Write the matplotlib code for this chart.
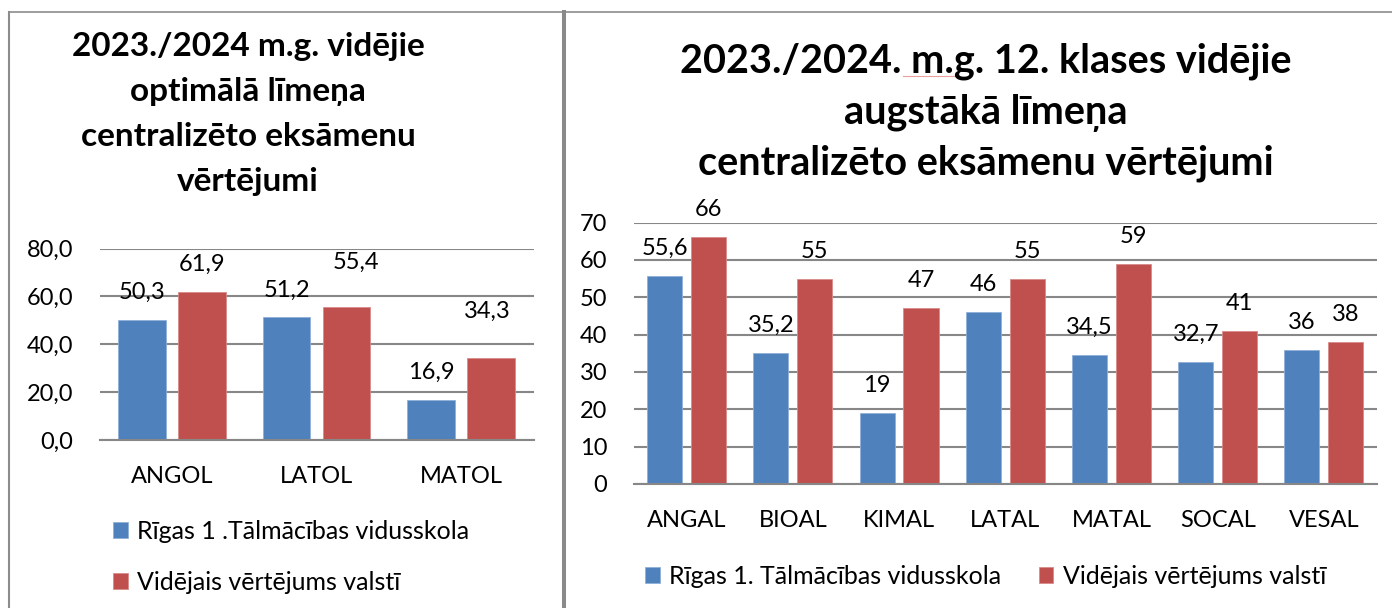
import matplotlib
matplotlib.use("Agg")
import matplotlib.pyplot as plt
from matplotlib.lines import Line2D
import numpy as np

# ---------------- data ----------------
left_categories = ["ANGOL", "LATOL", "MATOL"]
left_school = [50.3, 51.2, 16.9]
left_country = [61.9, 55.4, 34.3]
left_title = "2023./2024 m.g. vidējie\noptimālā līmeņa\ncentralizēto eksāmenu\nvērtējumi"
left_yticks = [0, 20, 40, 60, 80]

right_categories = ["ANGAL", "BIOAL", "KIMAL", "LATAL", "MATAL", "SOCAL", "VESAL"]
right_school = [55.6, 35.2, 19, 46, 34.5, 32.7, 36]
right_country = [66, 55, 47, 55, 59, 41, 38]
right_title = "2023./2024. m.g. 12. klases vidējie\naugstākā līmeņa\ncentralizēto eksāmenu vērtējumi"
right_yticks = [0, 10, 20, 30, 40, 50, 60, 70]

left_legend = ["Rīgas 1 .Tālmācības vidusskola", "Vidējais vērtējums valstī"]
right_legend = ["Rīgas 1. Tālmācības vidusskola", "Vidējais vērtējums valstī"]

# ---------------- style ----------------
W, H = 1392, 608
FONT = ["Lato", "DejaVu Sans"]
plt.rcParams["font.family"] = FONT
BLUE = "#4F81BD"
RED = "#C0504D"
GRID = "#878787"
FS = 17
LFS = 18

fig = plt.figure(figsize=(W / 100, H / 100), dpi=100)


def fx(x):
    return x / W


def fy(y):
    return 1 - y / H


def make_axes(x0, x1, y0, y1):
    return fig.add_axes([fx(x0), fy(y1), fx(x1) - fx(x0), fy(y0) - fy(y1)])


def draw_panel(ax, cats, s1, s2, yticks, fmt, label_fmt, special=None):
    special = special or {}
    x = np.arange(len(cats))
    off, bw = 0.207, 0.33
    b1 = ax.bar(x - off, s1, bw, color=BLUE, edgecolor="#8fb0da", linewidth=0.6, zorder=3)
    b2 = ax.bar(x + off, s2, bw, color=RED, edgecolor="#d98b89", linewidth=0.6, zorder=3)
    ax.set_xlim(-0.5, len(cats) - 0.5)
    ax.set_ylim(yticks[0], yticks[-1])
    ax.set_yticks(yticks)
    ax.set_yticklabels([fmt(v) for v in yticks], fontsize=FS)
    ax.set_xticks(x)
    ax.set_xticklabels(cats, fontsize=FS)
    ax.tick_params(axis="y", length=0, pad=19)
    ax.tick_params(axis="x", length=0, pad=19)
    for s in ["top", "right", "left"]:
        ax.spines[s].set_visible(False)
    ax.spines["bottom"].set_color(GRID)
    ax.spines["bottom"].set_linewidth(1.5)
    ax.spines["bottom"].set_zorder(4)
    ax.yaxis.grid(True, color=GRID, linewidth=1.5, zorder=0)
    ax.set_axisbelow(True)
    for series_idx, (bars, vals) in enumerate([(b1, s1), (b2, s2)]):
        for i, (rect, v) in enumerate(zip(bars, vals)):
            dx, dy = special.get((series_idx, i), (0, 19.8))
            ax.annotate(label_fmt(v), (rect.get_x() + rect.get_width() / 2, v),
                        xytext=(dx, dy), textcoords="offset points",
                        ha="center", va="center", fontsize=FS, zorder=5)
    return b1, b2


def fmt_left(v):
    return f"{v:.1f}".replace(".", ",")


def fmt_right(v):
    if float(v).is_integer():
        return str(int(v))
    return f"{v}".replace(".", ",")


# ---------------- left panel ----------------
axL = make_axes(99.5, 533.5, 248.5, 440)
lb1, lb2 = draw_panel(axL, left_categories, left_school, left_country, left_yticks,
                      fmt_left, fmt_left,
                      special={(1, 1): (6.5, 32.4), (1, 2): (-3, 33.8)})
fig.text(fx(248), fy(114), left_title, ha="center", va="center", fontsize=24,
         fontweight="bold", linespacing=1.66)
axL.legend([lb1, lb2], left_legend, loc="upper left",
           bbox_to_anchor=(fx(113), fy(520)), bbox_transform=fig.transFigure,
           frameon=False, fontsize=LFS, handlelength=0.58, handleheight=0.58,
           handletextpad=0.38, labelspacing=1.12, borderpad=0, borderaxespad=0)

# ---------------- right panel ----------------
axR = make_axes(633.5, 1377, 222.5, 484)
rb1, rb2 = draw_panel(axR, right_categories, right_school, right_country, right_yticks,
                      lambda v: str(v), fmt_right)
fig.text(fx(985.5), fy(112.5), right_title, ha="center", va="center", fontsize=28.5,
         fontweight="bold", linespacing=1.45)
axR.legend([rb1, rb2], right_legend, loc="upper left", ncol=2,
           bbox_to_anchor=(fx(645), fy(565)), bbox_transform=fig.transFigure,
           frameon=False, fontsize=LFS, handlelength=0.58, handleheight=0.58,
           handletextpad=0.38, columnspacing=1.5, borderpad=0, borderaxespad=0)

# spell-check squiggle under "m.g."
fig.add_artist(Line2D([fx(903), fx(955)], [fy(76), fy(76)], color="#e8a0a0",
                      linewidth=0.8, transform=fig.transFigure))

# ---------------- panel borders ----------------
fig.add_artist(Line2D([fx(9), fx(W)], [fy(12), fy(12)], color="#8c8c8c",
                      linewidth=1.2, transform=fig.transFigure))
fig.add_artist(Line2D([fx(9), fx(9)], [fy(12), fy(H)], color="#8c8c8c",
                      linewidth=1.5, transform=fig.transFigure))
fig.add_artist(Line2D([fx(563.5), fx(563.5)], [fy(12), fy(H)], color="#8a8a8a",
                      linewidth=2.9, transform=fig.transFigure))

fig.savefig("out.png", dpi=100)
